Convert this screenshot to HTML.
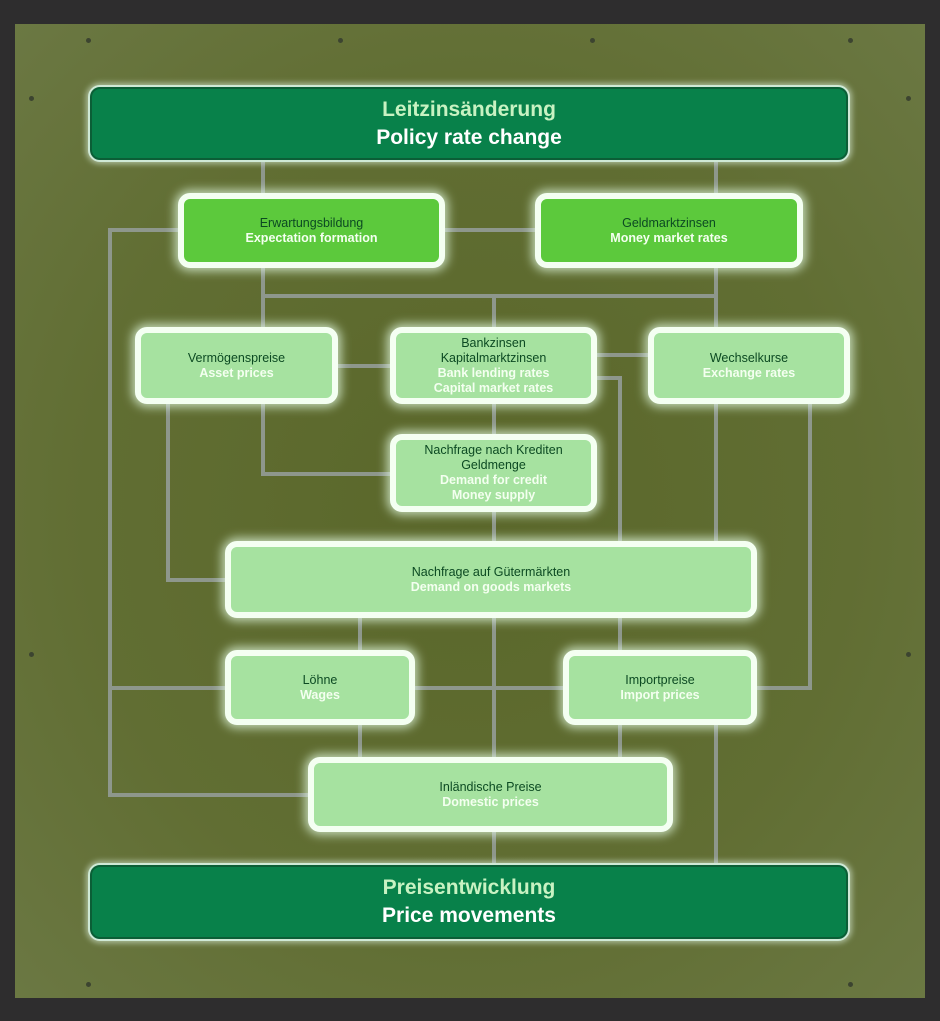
<!DOCTYPE html>
<html><head><meta charset="utf-8"><style>
body{margin:0;width:940px;height:1021px;background:#2e2d2e;position:relative;overflow:hidden;font-family:"Liberation Sans",sans-serif}
#panel{position:absolute;left:15px;top:24px;width:910px;height:974px;background:radial-gradient(ellipse at 50% 50%,#5a672a 0%,#616e33 60%,#6b7843 100%)}
.l{position:absolute;background:#8e978c}
.b{position:absolute;box-sizing:border-box;border:6px solid #f4fff2;border-radius:12px;background:#a6e2a0;box-shadow:0 0 10px 3px rgba(230,255,230,.75);text-align:center;display:flex;flex-direction:column;justify-content:center;font-size:12.5px;line-height:15px;font-weight:bold}
.b .d{color:#0c4a22;font-weight:normal}
.b .e{color:#f4fff0}
.g{background:#5cc93c}
.h{position:absolute;box-sizing:border-box;border:2px solid #cfe9d6;border-radius:12px;background:#08814a;box-shadow:0 0 6px 2px rgba(220,240,220,.6),inset 0 0 0 2px #0b5e36;text-align:center;display:flex;flex-direction:column;justify-content:center;font-weight:bold;font-size:21px;line-height:28px}
.h .d{color:#c8f2c2}.h .e{color:#fff}
.s{position:absolute;width:5px;height:5px;border-radius:50%;background:#3c4430}
</style></head><body>
<div id="panel"></div>
<div class="s" style="left:86px;top:38px"></div><div class="s" style="left:338px;top:38px"></div><div class="s" style="left:590px;top:38px"></div><div class="s" style="left:848px;top:38px"></div>
<div class="s" style="left:29px;top:96px"></div><div class="s" style="left:906px;top:96px"></div>
<div class="s" style="left:29px;top:652px"></div><div class="s" style="left:906px;top:652px"></div>
<div class="s" style="left:86px;top:982px"></div><div class="s" style="left:848px;top:982px"></div>
<!-- lines -->
<div class="l" style="left:261px;top:160px;width:4px;height:35px"></div>
<div class="l" style="left:714px;top:160px;width:4px;height:35px"></div>
<div class="l" style="left:443px;top:228px;width:94px;height:4px"></div>
<div class="l" style="left:108px;top:228px;width:72px;height:4px"></div>
<div class="l" style="left:108px;top:228px;width:4px;height:569px"></div>
<div class="l" style="left:261px;top:266px;width:4px;height:63px"></div>
<div class="l" style="left:714px;top:266px;width:4px;height:63px"></div>
<div class="l" style="left:261px;top:294px;width:457px;height:4px"></div>
<div class="l" style="left:492px;top:294px;width:4px;height:35px"></div>
<div class="l" style="left:336px;top:364px;width:56px;height:4px"></div>
<div class="l" style="left:595px;top:353px;width:55px;height:4px"></div>
<div class="l" style="left:492px;top:402px;width:4px;height:34px"></div>
<div class="l" style="left:261px;top:402px;width:4px;height:74px"></div>
<div class="l" style="left:261px;top:472px;width:131px;height:4px"></div>
<div class="l" style="left:166px;top:402px;width:4px;height:180px"></div>
<div class="l" style="left:166px;top:578px;width:61px;height:4px"></div>
<div class="l" style="left:492px;top:510px;width:4px;height:33px"></div>
<div class="l" style="left:595px;top:376px;width:27px;height:4px"></div>
<div class="l" style="left:618px;top:376px;width:4px;height:167px"></div>
<div class="l" style="left:714px;top:402px;width:4px;height:141px"></div>
<div class="l" style="left:808px;top:402px;width:4px;height:288px"></div>
<div class="l" style="left:755px;top:686px;width:57px;height:4px"></div>
<div class="l" style="left:358px;top:616px;width:4px;height:36px"></div>
<div class="l" style="left:618px;top:616px;width:4px;height:36px"></div>
<div class="l" style="left:492px;top:616px;width:4px;height:249px"></div>
<div class="l" style="left:108px;top:686px;width:119px;height:4px"></div>
<div class="l" style="left:413px;top:686px;width:152px;height:4px"></div>
<div class="l" style="left:358px;top:723px;width:4px;height:36px"></div>
<div class="l" style="left:618px;top:723px;width:4px;height:36px"></div>
<div class="l" style="left:108px;top:793px;width:202px;height:4px"></div>
<div class="l" style="left:492px;top:830px;width:4px;height:35px"></div>
<div class="l" style="left:714px;top:723px;width:4px;height:142px"></div>
<!-- boxes -->
<div class="h" style="left:88px;top:85px;width:762px;height:77px"><div class="d">Leitzinsänderung</div><div class="e">Policy rate change</div></div>
<div class="b g" style="left:178px;top:193px;width:267px;height:75px"><div class="d">Erwartungsbildung</div><div class="e">Expectation formation</div></div>
<div class="b g" style="left:535px;top:193px;width:268px;height:75px"><div class="d">Geldmarktzinsen</div><div class="e">Money market rates</div></div>
<div class="b" style="left:135px;top:327px;width:203px;height:77px"><div class="d">Vermögenspreise</div><div class="e">Asset prices</div></div>
<div class="b" style="left:390px;top:327px;width:207px;height:77px"><div class="d">Bankzinsen</div><div class="d">Kapitalmarktzinsen</div><div class="e">Bank lending rates</div><div class="e">Capital market rates</div></div>
<div class="b" style="left:648px;top:327px;width:202px;height:77px"><div class="d">Wechselkurse</div><div class="e">Exchange rates</div></div>
<div class="b" style="left:390px;top:434px;width:207px;height:78px"><div class="d">Nachfrage nach Krediten</div><div class="d">Geldmenge</div><div class="e">Demand for credit</div><div class="e">Money supply</div></div>
<div class="b" style="left:225px;top:541px;width:532px;height:77px"><div class="d">Nachfrage auf Gütermärkten</div><div class="e">Demand on goods markets</div></div>
<div class="b" style="left:225px;top:650px;width:190px;height:75px"><div class="d">Löhne</div><div class="e">Wages</div></div>
<div class="b" style="left:563px;top:650px;width:194px;height:75px"><div class="d">Importpreise</div><div class="e">Import prices</div></div>
<div class="b" style="left:308px;top:757px;width:365px;height:75px"><div class="d">Inländische Preise</div><div class="e">Domestic prices</div></div>
<div class="h" style="left:88px;top:863px;width:762px;height:78px"><div class="d">Preisentwicklung</div><div class="e">Price movements</div></div>
</body></html>
